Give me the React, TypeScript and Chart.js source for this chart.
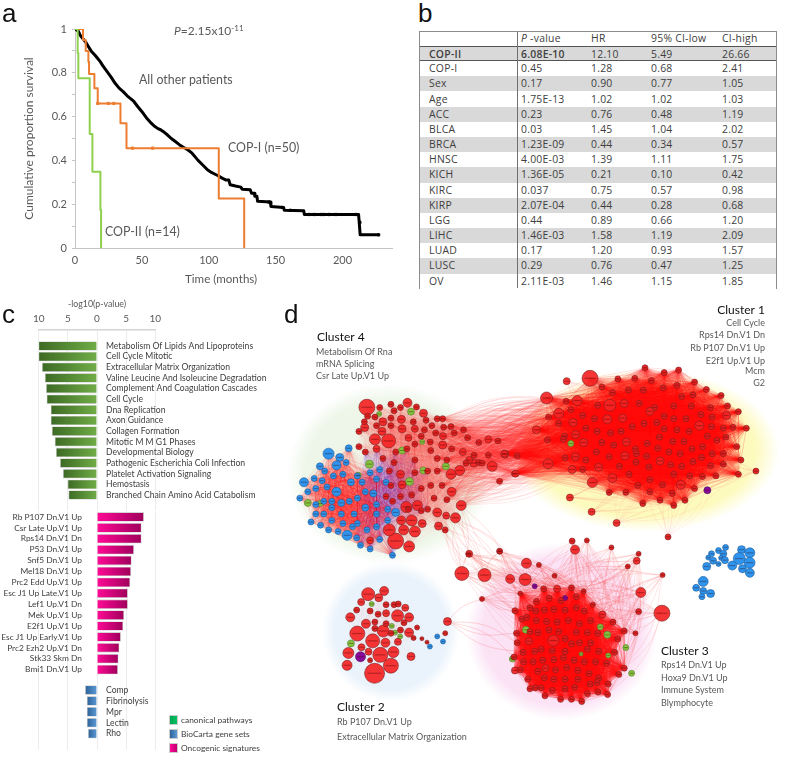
import React, { useEffect, useRef } from "react";
import { Chart, registerables } from "chart.js";
Chart.register(...registerables);

/* ---------- panel a: survival curves ---------- */
const otherPatients: [number, number][] = [[0,1],[2.5,.99],[4,.97],[6,.955],[8,.94],[10,.92],[12,.9],[15,.88],[17,.865],[19,.85],[21,.83],[24,.805],[27,.78],[30,.752],[33,.73],[36,.714],[39,.695],[42,.68],[44,.669],[47,.645],[51,.615],[54,.59],[57,.57],[59,.558],[62,.545],[64,.54],[67,.527],[69,.517],[72,.5],[75,.486],[78,.472],[81,.46],[83,.453],[85,.445],[87.5,.433],[90,.415],[92,.4],[94,.388],[97,.37],[99,.357],[102,.345],[104,.339],[107,.33],[110,.319],[113,.31],[115,.31],[116,.289],[120,.283],[124,.278],[125,.268],[131,.266],[132,.25],[134,.25],[134.5,.236],[136,.236],[136.5,.213],[146,.21],[146.5,.19],[156,.185],[156.5,.172],[171,.17],[171.5,.153],[212,.153],[212.5,.117],[213,.117],[213.2,.06],[227,.06]];
const otherCensored: [number, number][] = [[145,.21],[155,.185],[161,.172],[175,.153],[179,.153],[184,.153],[186,.153],[190,.153],[195,.153],[210,.153],[213,.117],[227,.06]];
const copOne: [number, number][] = [[0,1],[6,.95],[8,.9],[10,.85],[10.5,.795],[14.5,.73],[17,.66],[34,.57],[38.5,.456],[107.5,.226],[126.5,0]];
const copOneCensored: [number, number][] = [[17,.66],[25,.66],[29,.66],[43,.456],[58,.456]];
const copTwo: [number, number][] = [[0,1],[2,.89],[2.5,.775],[11,.52],[13,.348],[19,.175],[19.5,0]];

/* ---------- panel b: Cox model table ---------- */
const tableHead = ["", "-value", "HR", "95% CI-low", "CI-high"];
const tableRows: string[][] = [
  ["COP-II","6.08E-10","12.10","5.49","26.66"],
  ["COP-I","0.45","1.28","0.68","2.41"],
  ["Sex","0.17","0.90","0.77","1.05"],
  ["Age","1.75E-13","1.02","1.02","1.03"],
  ["ACC","0.23","0.76","0.48","1.19"],
  ["BLCA","0.03","1.45","1.04","2.02"],
  ["BRCA","1.23E-09","0.44","0.34","0.57"],
  ["HNSC","4.00E-03","1.39","1.11","1.75"],
  ["KICH","1.36E-05","0.21","0.10","0.42"],
  ["KIRC","0.037","0.75","0.57","0.98"],
  ["KIRP","2.07E-04","0.44","0.28","0.68"],
  ["LGG","0.44","0.89","0.66","1.20"],
  ["LIHC","1.46E-03","1.58","1.19","2.09"],
  ["LUAD","0.17","1.20","0.93","1.57"],
  ["LUSC","0.29","0.76","0.47","1.25"],
  ["OV","2.11E-03","1.46","1.15","1.85"],
];

/* ---------- panel c: enrichment bars ---------- */
const pathwayNames = ["Metabolism Of Lipids And Lipoproteins","Cell Cycle Mitotic","Extracellular Matrix Organization","Valine Leucine And Isoleucine Degradation","Complement And Coagulation Cascades","Cell Cycle","Dna Replication","Axon Guidance","Collagen Formation","Mitotic M M G1 Phases","Developmental Biology","Pathogenic Escherichia Coli Infection","Platelet Activation Signaling","Hemostasis","Branched Chain Amino Acid Catabolism"];
const pathwayValues = [-10,-10,-9.4,-8.9,-8.7,-8.6,-7.9,-7.9,-7.7,-7.2,-7,-6.3,-5.8,-5,-4.85];
const oncogenicNames = ["Rb P107 Dn.V1 Up","Csr Late Up.V1 Up","Rps14 Dn.V1 Dn","P53 Dn.V1 Up","Snf5 Dn.V1 Up","Mel18 Dn.V1 Up","Prc2 Edd Up.V1 Up","Esc J1 Up Late.V1 Up","Lef1 Up.V1 Dn","Mek Up.V1 Up","E2f1 Up.V1 Up","Esc J1 Up Early.V1 Up","Prc2 Ezh2 Up.V1 Dn","Stk33 Skm Dn","Bmi1 Dn.V1 Up"];
const oncogenicValues = [8,7.6,7.6,6.3,5.9,5.8,5.65,5.25,5.25,4.6,4.45,4.05,3.8,3.65,3.55];
const biocartaNames = ["Comp","Fibrinolysis","Mpr","Lectin","Rho"];
const biocartaValues = [-2,-1.7,-1.7,-1.7,-1.5];
const legendNames = ["canonical pathways","BioCarta gene sets","Oncogenic signatures"];

/* ---------- panel d: network layout (node x, y, radius) ---------- */
type N = number[];
const cluster1Read: N[] = [
[278,213,8],[142,275,6],[340,298,6],[147,482,5],[238,283,5],[348,527,4.5],[285,541,5],
[450,180],[510,195],[555,187],[365,215],[418,213],[470,220],[550,235],[605,225],
[315,240],[348,258],[398,250],[445,250],[507,243],[565,270],[600,265],[642,248],[688,267],
[302,298],[385,292,4],[432,292],[480,305],[540,300],[595,300],[655,305],[708,300],
[255,330],[292,340],[332,342,4.5],[380,338,4],[465,317,4],[510,332],[540,340],[578,340],[625,327],[660,335],[705,330,4],[742,318],
[225,352,4],[180,323,5],[148,335],[180,355],[265,370],[300,380],[342,385],[375,380],[410,365],[447,355],[487,352],[510,372],[550,375],[588,380],[620,362,4.5],[658,365],[695,370],[725,367],[767,370],
[110,375,4],[198,395],[233,390,4],[258,415,4],[315,415],[352,423],[392,413,4],[420,435],[457,418],[495,398],[537,412],[572,412],[630,428],[645,395],[675,408],[703,398],[737,428],
[298,445],[338,460],[387,457,4],[423,450],[455,458],[490,433],[525,445],[560,450],[597,435],[627,462],[660,450],[695,450],[750,470],
[200,463],[232,460,4],[265,470],[222,500,4],[255,500],[305,493,4],[370,490],[422,477],[462,492],[497,473,4],[530,485],[565,490],[600,475],[655,488],[695,483],
[400,515],[465,532],[505,548],[540,515],[590,520],[630,522],[672,520],[742,515],
[427,550],[562,548,4.5],[605,560],[338,572],[390,572],[465,570],[535,575],[575,597],[497,597],[443,607],[540,613],
[203,285],[218,312],[145,407],[195,405],[12,452,4],[50,457],[42,513],
];
const cluster1Stray: N[] = [[205,222,3.5],[215,588,3.5],[283,633,3.5],[361,668,3.5],[522,712,3],[797,505,3]];
const cluster1Green: N[] = [[218,418,3]];
const cluster1Purple: N[] = [[645,565,3.5]];

const cluster4Red: N[] = [
[270,304,8],[338,410,7],[360,725,8],[393,618,5.5],[428,613,5],[295,405,5.5],[397,290,4.5],[320,350,4],[447,323,4],[378,342,4],[380,372,4],[263,368,4],[317,380,4],[420,372,3.5],[508,395,3.5],[560,503,5],[533,515,5],[662,490,5],[605,480,4],[650,405,3.5],[565,613,5],[547,652,5],[490,635,4.5],[518,645,3.5],[494,678,4],[410,660,5.5],[377,660,4.5],[443,670,4],[340,690,6],[385,690,5],[420,695,5.5],[402,742,5.5],[280,723,3.5],[535,570,4.5],[685,537,3],[735,513,3.5],[700,450,3.5],[620,478,3],[590,470,3.5],
[345,295],[310,305],[425,303],[375,305],[355,315],[272,332],[295,335],[345,338],[262,350],[300,362],[245,380],[345,362],[455,345],[490,340],[415,350],[507,340],[533,365],[572,375],[473,362],[510,367],[450,375],[400,400,3.5],[440,395],[485,385],[543,385],[585,400],[620,415],[680,410],[507,423,4],[468,413],[420,420],[360,445],[300,435,3.5],[245,428],[265,445],[395,435],[470,440],[535,435],[570,445,3.5],[605,455],[650,455],[490,465],[420,470],[355,478],[320,465],[630,480],[580,480],[520,470],[460,505],[490,505],[420,510],[375,515,4],[340,505],[380,548,4],[345,550],[410,580],[440,560],[470,550],[505,550],[480,590],[520,595],[460,625],[440,630],[330,585],[350,600],[375,585],[515,690],[400,625],
];
const cluster4Stray: N[] = [[590,765,3.5],[685,757,3]];
const cluster4Blue: N[] = [
[150,450,5.5],[185,462,4],[213,433,3.5],[175,487,4.5],[123,490,3.5],[138,505,3],[205,478,3],[105,528,3],[73,540,4.5],[130,535],[165,520],[195,515],[220,540,3.5],[175,570,4.5],[145,555],[110,560],[85,570],[60,590],[110,610],[135,600],[160,600],[190,605,3.5],[215,600],[240,590],[265,570],[290,575,3.5],[300,530],[330,540],[310,500],[280,510],[255,540],[240,520],[300,610],[265,620,3.5],[230,640],[190,640],[160,620],[135,640],[110,640],[95,665],[125,675],[160,660],[195,670],[240,670],[270,690],[300,640],[335,625],[360,635,4],[208,707,5],[238,715],[250,738],[280,750],[310,720],[350,770],[300,680],[335,660],[225,680],[180,695],[150,690],
];
const cluster4Green: N[] = [[308,325,2.5],[408,318,3.5],[380,440,3.5],[278,483,4],[243,518,3],[447,503,3.5],[517,490,3.5],[403,538,4],[85,605,3.5],[124,607,3],[443,413,2.5]];

const cluster3Inner: N[] = [
[763,318,5.5],[687,320,3.5],[739,405,3.5],[643,412,3.5],
[643,224,3],[660,170,2.5],[775,155,3.5],[733,155,3],[820,152,3],[858,163,2.5],[887,205,2.5],[917,236,3.5],[950,260,3],[985,288,3],[965,313,3],[985,405,3],[968,425],[933,488],[903,480],[852,510],[820,503],[786,503],[737,492],[707,467],[683,440],[660,410],[640,370],[668,355],[650,325],[648,295],[665,250],[690,215],[710,195],[750,185],[787,192],[835,180],
[708,225],[735,222],[765,220],[800,222],[835,215],[860,225],[880,255],[845,265],[810,255],[775,260],[742,258],[710,255],[680,245],[690,290],[715,293],[750,285],[780,290],[800,312],[835,292],[870,293],[902,295],[845,325],[880,325],[905,352],[870,345],[820,328],[800,352],[760,350],[725,345],[705,352],[670,385],[700,385],[730,380],[765,378],[795,372],[828,380],[860,385],[895,385],[930,390],[955,355],[715,415],[770,410],[805,403],[840,412],[875,422],[905,436],[935,455],[878,455],[840,440],[800,440],[765,440],[735,435],[690,470],[725,467],[760,475],[800,470],[830,465],[870,485],[900,450],
];
const cluster3Outer: N[] = [[477,107,7],[548,112,6.5],[628,124,4.5],[675,126,6],[679,75,5],[831,32,4.5],[1037,167,5],[1103,232,8],[1024,67,3.5],[1030,45,2.5],[996,85,2.5],[945,25,2.5],[1105,112,2.5],[718,80,2.5],[767,114,2.5],[498,47,2.5],[596,38,2.5],[540,187,2.5],[822,5,3],[868,3,2.5],[1030,227,3],[1020,295,2.5]];
const cluster3Green: N[] = [[677,284,3.5],[910,275,3],[932,300,3.5],[990,340,3],[935,365,2.5],[850,360,2],[1008,421,3],[635,376,3]];
const cluster3Purple: N[] = [[705,147,2.5],[800,184,2.5]];

const cluster2Red: N[] = [[204,421,10],[255,397,7.5],[222,363,7.5],[150,296,7.5],[198,319,7],[276,240,6],[231,288,6],[184,172,6.5],[234,162,4.5],[122,357,5.5],[118,396,5],[263,354,5.5],[128,245,4.5],[318,368,4],[217,183,4],[162,197,3.5],[148,222,3],[177,265,4.5],[190,225,3],[215,235,3],[240,232,3.5],[205,260,3],[240,205,3],[265,205,3],[278,203,3],[300,215,3.5],[312,245,4.5],[312,293,4.5],[277,322,3.5],[238,325,4.5],[185,353,3.5],[163,339,3.5],[240,265,3],[190,380,2.5],[285,285,3],[255,295,3],[205,280,3],[326,310,2.5],[337,277,2.5],[296,262,3],[432,258,4],[425,295,2.5],[368,323,2],[352,312,2]];
const cluster2Green: N[] = [[195,203,2.5],[130,327,3.5],[268,293,2.5],[284,305,2.5],[258,272,2.5]];
const cluster2Purple: N[] = [[160,369,5]];
const cluster2Blue: N[] = [[400,305,2.5],[418,321,2.5],[377,337,2.5]];

const satelliteBlue: N[] = [[132,55,3],[110,65,3],[88,75,3],[125,75,3.5],[78,87,2.5],[118,88,2.5],[93,97,3.5],[130,95,3.5],[110,107,2.5],[73,115,4],[182,62,4],[208,72,5],[175,90,6],[207,103,5.5],[153,112,4.5],[185,122,4],[208,135,4.5],[62,162,5],[40,182,3.5],[62,192,3.5],[85,200,4],[58,210,3]];

const panelLabels: [string, number, number][] = [["a",2,22],["b",418,22],["c",2,323],["d",284,323]];
const clusterHeads: [string, number, number, CanvasTextAlign][] = [["Cluster 4",317,341,"left"],["Cluster 1",765,314,"right"],["Cluster 2",337,711,"left"],["Cluster 3",661,655,"left"]];
const clusterNotes: [string, number, number, CanvasTextAlign][] = [
["Metabolism Of Rna",316,355,"left"],["mRNA Splicing",316,367,"left"],["Csr Late Up.V1 Up",316,379,"left"],
["Cell Cycle",765,326,"right"],["Rps14 Dn.V1 Dn",765,338,"right"],["Rb P107 Dn.V1 Up",765,351,"right"],["E2f1 Up.V1 Up",765,364,"right"],["Mcm",765,374,"right"],["G2",765,386,"right"],
["Rb P107 Dn.V1 Up",337,725,"left"],["Extracellular Matrix Organization",337,740,"left"],
["Rps14 Dn.V1 Up",661,668,"left"],["Hoxa9 Dn.V1 Up",661,681,"left"],["Immune System",661,693,"left"],["Blymphocyte",661,706,"left"],
];

const FONT = "Lato";
const GREY = "#595959";

const pts = (a: [number, number][]) => a.map(([x, y]) => ({ x, y }));
const shift = (a: N[], dx: number, dy: number): N[] => a.map((n) => [n[0] + dx, n[1] + dy, n[2] ?? 3]);
const sized = (a: N[]): N[] => a.map((n) => [n[0], n[1], n[2] ?? 3]);
const bubbles = (a: N[]) => a.map(([x, y, r]) => ({ x, y, r }));

function allPairs(list: N[]) {
  const out: any[] = [];
  for (let i = 0; i < list.length; i++)
    for (let j = i + 1; j < list.length; j++)
      out.push({ x: list[i][0], y: list[i][1] }, { x: list[j][0], y: list[j][1] }, { x: null, y: null });
  return out;
}
function arcs(from: N[], to: N[], bow: number) {
  const out: any[] = [];
  from.forEach((a, i) =>
    to.forEach((b, j) => {
      const dx = b[0] - a[0], dy = b[1] - a[1];
      const s = (i + j) % 2 ? bow : -bow;
      out.push({ x: a[0], y: a[1] }, { x: (a[0] + b[0]) / 2 - dy * s, y: (a[1] + b[1]) / 2 + dx * s }, { x: b[0], y: b[1] }, { x: null, y: null });
    })
  );
  return out;
}
const edgeSet = (data: any[], color: string, width: number, curved: boolean) => ({
  type: "line", data, borderColor: color, borderWidth: width, pointRadius: 0, tension: curved ? 0.4 : 0,
  spanGaps: false, fill: false, order: 10, segment: {},
});
const nodeSet = (a: N[], fill: string | ((c: any) => string), edge: string) => ({
  type: "bubble", data: bubbles(a), backgroundColor: fill, borderColor: edge, borderWidth: 0.6, order: 1,
});

const textPlugin = (draw: (c: CanvasRenderingContext2D, chart: any) => void) => ({
  id: "notes",
  afterDraw(chart: any) {
    const c = chart.ctx;
    c.save();
    draw(c, chart);
    c.restore();
  },
});

function drawSurvival(cv: HTMLCanvasElement) {
  const line = (data: any, color: string, w: number, order: number, stepped: boolean) => ({
    type: "line", data: pts(data), borderColor: color, borderWidth: w, stepped, pointRadius: 0, order, fill: false, borderJoinStyle: "round",
  });
  const marks = (data: any, color: string, r: number, order: number) => ({
    type: "scatter", data: pts(data), backgroundColor: color, borderColor: color, pointStyle: "rect", pointRadius: r, order,
  });
  return new Chart(cv, {
    type: "scatter",
    data: {
      datasets: [
        marks(copOneCensored, "#ed7d31", 1.6, 1), line(copTwo, "#8fd14f", 2, 1, true), line(copOne, "#ed7d31", 2, 2, true),
        marks(otherCensored, "#000", 1.6, 3), line(otherPatients, "#000", 3, 3, false),
      ] as any,
    },
    options: {
      responsive: false, animation: false, devicePixelRatio: 1, events: [],
      layout: { padding: { left: 22, top: 29, right: 8, bottom: 4 } },
      plugins: { legend: { display: false }, tooltip: { enabled: false } },
      scales: {
        x: {
          type: "linear", min: 0, max: 237, afterFit: (s: any) => { s.height = 38; },
          afterBuildTicks: (s: any) => { s.ticks = [0, 50, 100, 150, 200].map((value) => ({ value })); },
          grid: { display: false, tickLength: 3, drawTicks: false }, border: { color: "#c4c4c4" },
          ticks: { color: GREY, font: { family: FONT, size: 11 }, maxRotation: 0, padding: 6 },
        },
        y: {
          min: 0, max: 1, afterFit: (s: any) => { s.width = 53; },
          afterBuildTicks: (s: any) => { s.ticks = [0, .1, .2, .3, .4, .5, .6, .7, .8, .9, 1].map((value) => ({ value })); },
          grid: { drawOnChartArea: false, tickLength: 3, color: "#c4c4c4" }, border: { color: "#c4c4c4" },
          ticks: {
            color: GREY, font: { family: FONT, size: 11 }, padding: 5,
            callback: (v: any) => (Math.round(v * 10) % 2 === 0 ? String(Math.round(v * 10) / 10) : ""),
          },
          title: { display: true, text: "Cumulative proportion survival", color: GREY, font: { family: FONT, size: 12 }, padding: 0 },
        },
      },
    } as any,
    plugins: [textPlugin((c) => {
      c.fillStyle = GREY;
      c.textBaseline = "middle";
      c.font = `12.4px ${FONT}`;
      c.fillText("All other patients", 139, 80);
      c.fillText("COP-I (n=50)", 228, 148);
      c.fillText("COP-II (n=14)", 105, 232);
      c.font = `11.6px ${FONT}`;
      c.fillText("Time (months)", 185, 279);
      c.font = `italic 12px ${FONT}`;
      c.fillText("P", 174, 31);
      let x = 174 + c.measureText("P").width;
      c.font = `12px ${FONT}`;
      c.fillText("=2.15x10", x, 31);
      x += c.measureText("=2.15x10").width;
      c.font = `8px ${FONT}`;
      c.fillText("-11", x, 28);
    })],
  });
}

function drawBars(cv: HTMLCanvasElement, names: string[], values: number[], stops: [string, string], side: "left" | "right", top: boolean, pad: { top: number; bottom: number }) {
  const labels = (top ? [" "] : []).concat(names, [" "]);
  const data = (top ? [null] : []).concat(values as any, [null]);
  return new Chart(cv, {
    type: "bar",
    data: {
      labels,
      datasets: [{
        data,
        barThickness: 9,
        borderWidth: 0.8,
        borderColor: "#d4d4d4",
        backgroundColor: (ctx: any) => {
          const a = ctx.chart.chartArea;
          if (!a) return stops[1];
          const zero = ctx.chart.scales.x.getPixelForValue(0);
          const v = ctx.raw ?? 0;
          const end = ctx.chart.scales.x.getPixelForValue(v);
          const g = ctx.chart.ctx.createLinearGradient(Math.min(zero, end), 0, Math.max(zero, end) + 0.01, 0);
          g.addColorStop(0, stops[0]);
          g.addColorStop(1, stops[1]);
          return g;
        },
      }] as any,
    },
    options: {
      indexAxis: "y", responsive: false, animation: false, devicePixelRatio: 1, events: [],
      layout: { padding: { left: 38.7, right: 270 - 155.3, top: pad.top, bottom: pad.bottom } },
      plugins: { legend: { display: false }, tooltip: { enabled: false } },
      scales: {
        x: {
          type: "linear", min: -10, max: 10, position: "top", display: true,
          afterBuildTicks: (s: any) => { s.ticks = [-10, -5, 0, 5, 10].map((value) => ({ value })); },
          afterFit: (s: any) => { if (top) s.height = 31; else s.height = 0; },
          grid: { color: "#ececec", drawTicks: false },
          border: { display: top, color: "#d4d4d4", width: 1.5 },
          ticks: { display: top, color: GREY, font: { family: FONT, size: 10 }, padding: 5, maxRotation: 0, callback: (v: any) => String(Math.abs(v)) },
          title: { display: top, text: "-log10(p-value)", color: GREY, font: { family: FONT, size: 8.8 }, padding: 0 },
        },
        y: { type: "category", display: false },
      },
    } as any,
    plugins: [textPlugin((c, chart) => {
      const zero = chart.scales.x.getPixelForValue(0);
      c.fillStyle = "#404040";
      c.font = `${side === "right" ? 8.6 : 8.4}px ${FONT}`;
      c.textBaseline = "middle";
      c.textAlign = side === "right" ? "left" : "right";
      const x = side === "right" ? zero + 9 : zero - 15;
      names.forEach((n) => c.fillText(n, x, chart.scales.y.getPixelForValue(n)));
    })],
  });
}

function drawNetwork(cv: HTMLCanvasElement) {
  const one = shift(cluster1Read, 690, 0);
  const oneStray = shift(cluster1Stray, 690, 0);
  const four = sized(cluster4Red);
  const fourBlue = sized(cluster4Blue);
  const three = shift(cluster3Inner, 90, 720);
  const threeOut = shift(cluster3Outer, 90, 720);
  const two = shift(cluster2Red, 90, 720);
  const centre = fourBlue.filter((n) => n[0] > 230).concat(four.filter((n) => n[0] > 240 && n[0] < 470 && n[1] > 430 && n[1] < 650));
  const bridgeFrom = four.filter((n) => n[0] > 480 && n[1] < 620);
  const bridgeTo = one.filter((n) => n[0] < 960);
  const halos: [number, number, number, number, string, string][] = [
    [1140, 440, 420, 255, "rgba(253,250,190,1)", "rgba(253,250,190,0)"],
    [340, 515, 320, 285, "rgba(238,246,233,1)", "rgba(238,246,233,0)"],
    [345, 1010, 215, 220, "rgba(234,243,251,1)", "rgba(234,243,251,0)"],
    [880, 1010, 300, 280, "rgba(251,226,245,1)", "rgba(251,226,245,0)"],
  ];
  const redFill = (ctx: any) => ((ctx.raw && ctx.raw.r <= 3) ? "rgba(226,30,30,0.96)" : "rgba(244,36,36,0.92)");
  return new Chart(cv, {
    type: "bubble",
    data: {
      datasets: [
        edgeSet(allPairs(one), "rgba(255,10,10,0.2)", 0.55, false),
        edgeSet(allPairs(three), "rgba(255,10,10,0.3)", 0.65, false),
        edgeSet(allPairs(two.slice(0, 40)), "rgba(250,70,70,0.04)", 0.4, false),
        edgeSet(allPairs(four), "rgba(250,60,60,0.05)", 0.4, false),
        edgeSet(allPairs(fourBlue), "rgba(250,20,20,0.16)", 0.45, false),
        edgeSet(allPairs(centre), "rgba(70,40,230,0.13)", 0.45, false),
        edgeSet(arcs(bridgeFrom, bridgeTo, 0.09), "rgba(250,40,40,0.22)", 0.45, true),
        edgeSet(arcs(threeOut, three.slice(4, 18), 0.1), "rgba(250,60,60,0.28)", 0.45, true),
        edgeSet(arcs(oneStray, one.slice(105, 117), 0.12), "rgba(250,70,70,0.16)", 0.45, true),
        edgeSet(arcs(four.slice(20, 25).concat(sized(cluster4Stray)), threeOut.slice(0, 4), 0.1), "rgba(250,70,70,0.3)", 0.5, true),
        edgeSet(arcs(two.slice(40, 41), three.slice(26, 30).concat(threeOut.slice(17, 18)), 0.1), "rgba(250,70,70,0.4)", 0.5, true),
        nodeSet(one.concat(oneStray, four, sized(cluster4Stray), three, threeOut, two), redFill, "#7a1c1c"),
        nodeSet(fourBlue.concat(shift(cluster2Blue, 90, 720), shift(satelliteBlue, 1260, 690)), "#2f94ee", "#1c5a96"),
        nodeSet(sized(cluster4Green).concat(shift(cluster1Green, 690, 0), shift(cluster3Green, 90, 720), shift(cluster2Green, 90, 720)), "#86c440", "#4f7a28"),
        nodeSet(shift(cluster1Purple, 690, 0).concat(shift(cluster3Purple, 90, 720), shift(cluster2Purple, 90, 720)), "#8a0a9a", "#4c0a58"),
      ] as any,
    },
    options: {
      responsive: false, animation: false, devicePixelRatio: 1, events: [],
      layout: { padding: 0 },
      plugins: { legend: { display: false }, tooltip: { enabled: false } },
      scales: {
        x: { type: "linear", min: 0, max: 1551, display: false },
        y: { type: "linear", min: 0, max: 1371, reverse: true, display: false },
      },
    } as any,
    plugins: [
      {
        id: "halos",
        beforeDatasetsDraw(chart: any) {
          const { ctx: c, scales: { x, y } } = chart;
          halos.forEach(([cx, cy, rx, ry, inner, outer]) => {
            const px = x.getPixelForValue(cx), py = y.getPixelForValue(cy);
            const sx = Math.abs(x.getPixelForValue(cx + rx) - px), sy = Math.abs(y.getPixelForValue(cy + ry) - py);
            c.save();
            c.translate(px, py);
            c.scale(sx, sy);
            const g = c.createRadialGradient(0, 0, 0, 0, 0, 1);
            g.addColorStop(0, inner);
            g.addColorStop(0.82, inner);
            g.addColorStop(1, outer);
            c.fillStyle = g;
            c.beginPath();
            c.arc(0, 0, 1, 0, Math.PI * 2);
            c.fill();
            c.restore();
          });
        },
      },
      {
        id: "nodeInk",
        afterDatasetsDraw(chart: any) {
          const c = chart.ctx;
          c.save();
          c.fillStyle = "rgba(50,0,0,0.32)";
          chart.data.datasets.forEach((d: any, i: number) => {
            if (d.type !== "bubble") return;
            chart.getDatasetMeta(i).data.forEach((el: any, k: number) => {
              const r = d.data[k].r;
              const w = Math.max(3, r * 1.4);
              c.fillRect(el.x - w / 2, el.y - 0.6, w, 1.2);
            });
          });
          c.restore();
        },
      },
      textPlugin((c) => {
        c.textBaseline = "alphabetic";
        clusterHeads.forEach(([t, x, y, a]) => {
          c.font = `12px ${FONT}`;
          c.fillStyle = "#111";
          c.textAlign = a;
          c.fillText(t, x - 270, y - 300);
        });
        clusterNotes.forEach(([t, x, y, a]) => {
          c.font = `9px ${FONT}`;
          c.fillStyle = GREY;
          c.textAlign = a;
          c.fillText(t, x - 270, y - 300);
        });
      }),
    ],
  });
}

const abs = (l: number, t: number, extra: React.CSSProperties = {}): React.CSSProperties => ({ position: "absolute", left: l, top: t, ...extra });

function Table() {
  const colX = [9, 101, 171, 231, 302];
  const rowH = 15.17;
  const cell: React.CSSProperties = { fontFamily: "'Open Sans'", fontSize: 10.4, letterSpacing: 0.25, color: "#404040", whiteSpace: "nowrap", lineHeight: "15px" };
  return (
    <div style={abs(419, 31, { width: 358, height: 258, border: "1px solid #8c8c8c", boxSizing: "border-box" })}>
      {tableRows.map((row, i) => {
        const top = 14 + i * rowH;
        const shaded = i === 0 || i % 2 === 0;
        return (
          <div key={row[0]} style={abs(0, top, { width: 356, height: rowH, background: shaded ? "#d9d9d9" : "#fff", borderTop: i === 0 ? "1px solid #555" : undefined, borderBottom: i === 0 ? "1px solid #555" : undefined, boxSizing: "border-box" })}>
            {row.map((t, j) => (
              <span key={j} style={abs(colX[j], 0, { ...cell, fontWeight: i === 0 && j < 2 ? 600 : 400 })}>{t}</span>
            ))}
          </div>
        );
      })}
      <div style={abs(97, 0, { width: 1, height: 256, background: "#707070" })} />
      <span style={abs(colX[1], -1, cell)}><i>P</i> {tableHead[1]}</span>
      {tableHead.slice(2).map((t, j) => (
        <span key={t} style={abs(colX[j + 2], -1, cell)}>{t}</span>
      ))}
    </div>
  );
}

export default function App() {
  const aRef = useRef<HTMLCanvasElement>(null);
  const gRef = useRef<HTMLCanvasElement>(null);
  const pRef = useRef<HTMLCanvasElement>(null);
  const bRef = useRef<HTMLCanvasElement>(null);
  const dRef = useRef<HTMLCanvasElement>(null);
  useEffect(() => {
    const charts = [
      drawNetwork(dRef.current!),
      drawSurvival(aRef.current!),
      drawBars(gRef.current!, pathwayNames, pathwayValues, ["#3d6a24", "#70ad47"], "right", true, { top: 0, bottom: 5 }),
      drawBars(pRef.current!, oncogenicNames, oncogenicValues, ["#ff0a96", "#a0005c"], "left", false, { top: 1.5, bottom: 4 }),
      drawBars(bRef.current!, biocartaNames, biocartaValues, ["#2f6299", "#5b9bd5"], "right", false, { top: 0.6, bottom: 1 }),
    ];
    return () => charts.forEach((c) => c.destroy());
  }, []);
  const legendFill = ["linear-gradient(90deg,#00a651,#00c060)", "linear-gradient(90deg,#2f6299,#5b9bd5)", "linear-gradient(90deg,#ff0a96,#c00070)"];
  return (
    <div style={{ position: "fixed", left: 0, top: 0, width: 787, height: 757, background: "#fff", overflow: "hidden", filter: "blur(0.45px)" }}>
      <canvas ref={dRef} width={517} height={457} style={abs(270, 300)} />
      <canvas ref={aRef} width={400} height={290} style={abs(0, 0)} />
      <canvas ref={gRef} width={270} height={217} style={abs(0, 299)} />
      <canvas ref={pRef} width={270} height={180} style={abs(0, 510)} />
      <canvas ref={bRef} width={270} height={67} style={abs(0, 684)} />
      <Table />
      {panelLabels.map(([t, x, y]) => (
        <div key={t} style={abs(x, y - 23, { fontFamily: "'Liberation Sans'", fontSize: 26, lineHeight: "28px", color: "#111" })}>{t}</div>
      ))}
      {legendNames.map((t, i) => (
        <React.Fragment key={t}>
          <div style={abs(169, 715 + i * 14, { width: 9, height: 9.5, background: legendFill[i], border: "0.5px solid #ccc", boxSizing: "border-box" })} />
          <div style={abs(181, 714 + i * 14, { fontFamily: FONT, fontSize: 8.4, lineHeight: "12px", color: "#404040", whiteSpace: "nowrap" })}>{t}</div>
        </React.Fragment>
      ))}
    </div>
  );
}
